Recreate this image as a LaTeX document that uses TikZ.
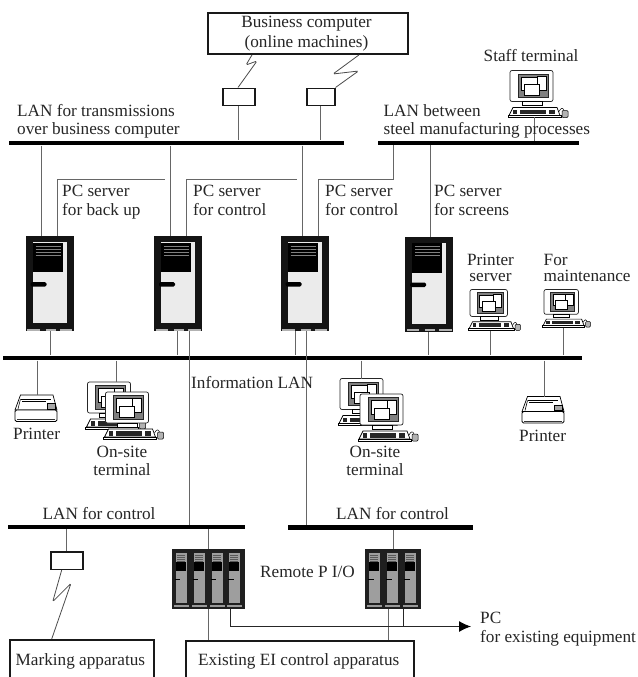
\documentclass[tikz,border=0pt]{standalone}
\usepackage{fontspec}
\setmainfont{Liberation Serif}
\usetikzlibrary{arrows.meta}
\tikzset{
  wire/.style={draw=black!60,line width=0.9pt},
  radio/.style={draw=black!70,line width=0.8pt,rounded corners=1.5pt},
  busline/.style={fill=black,draw=none,inner sep=0pt,minimum height=4.8pt,anchor=west},
  hold/.style={inner sep=0pt,draw=none,anchor=north west},
  boxed/.style={draw=black!90,line width=1.5pt,fill=white,inner sep=0pt,anchor=north west},
  heavybox/.style={draw=black!90,line width=1.9pt,fill=white,inner sep=0pt,anchor=north west},
  lbl/.style={inner sep=0pt,anchor=base west,font=\fontsize{17.2}{18}\selectfont,text=black!85},
  lblc/.style={lbl,anchor=base},
}
% tower server
\newcommand{\towerdev}[3]{%
  \node[hold,minimum width=48pt,minimum height=95pt] (#1) at (#2,#3) {};
  \begin{scope}[shift={(#2,#3)}]
    \fill[black!92] (0,0) rectangle (48,95);
    \fill[black!8] (7,6) rectangle (41,87);
    \fill[black] (7,6.5) rectangle (37,36);
    \foreach \yy in {10,13,16,19} \draw[black!50,line width=0.8pt] (10,\yy) -- (35,\yy);
    \fill[black,rounded corners=1.5pt] (5,46) rectangle (21,50.5);
    \fill[black!30] (1.5,92.5) rectangle (46.5,94.5);
    \fill[black!90] (14,92.5) rectangle (20,94.5);
    \fill[black!90] (30,92.5) rectangle (34,94.5);
  \end{scope}}
% terminal
\newcommand{\termdev}[4]{%
  \node[hold,minimum width=#4*58pt,minimum height=#4*47pt] (#1) at (#2,#3) {};
  \begin{scope}[shift={(#2,#3)},scale=#4]
    \draw[black!85,line width=0.7pt,fill=white,rounded corners=2pt] (0,0) rectangle (43,31);
    \draw[black!85,line width=0.8pt,fill=black!50] (8,3.5) rectangle (38,27);
    \draw[black,line width=0.6pt,fill=white] (11,6.5) rectangle (27,20);
    \draw[black,line width=0.6pt,fill=white] (27,6) rectangle (36,20);
    \draw[black,line width=0.6pt,fill=white] (14,14) rectangle (29,25);
    \draw[black,line width=0.6pt,fill=white] (12,31) rectangle (32,35);
    \draw[black,line width=0.7pt,fill=white] (-1,45) -- (3,37) -- (47,37) -- (50,45) -- cycle;
    \draw[black,line width=0.7pt,fill=white] (-2,45) rectangle (51,47);
    \fill[black!85] (3,39) rectangle (7,43.5);
    \fill[black!85] (10,39) rectangle (36,43.5);
    \fill[black!85] (39,39) rectangle (45,43.5);
    \draw[black,line width=0.5pt] (49,41) .. controls (51,37) and (53,37) .. (54,40);
    \draw[black,line width=0.5pt,fill=black!30,rounded corners=1pt] (52,47) rectangle (58,40);
  \end{scope}}
% printer
\newcommand{\printdev}[3]{%
  \node[hold,minimum width=42pt,minimum height=27pt] (#1) at (#2,#3) {};
  \begin{scope}[shift={(#2,#3)}]
    \draw[black,line width=0.7pt,fill=white] (5.5,0) -- (38,0) -- (42,15) -- (0,15) -- cycle;
    \draw[black,line width=0.6pt] (6,4) -- (36,4);
    \draw[black,line width=0.6pt] (5.5,4) -- (3,14);
    \draw[black,line width=0.5pt,fill=black!35] (32,8.5) rectangle (40,14);
    \draw[black,line width=0.5pt] (7,6) -- (31,6);
    \draw[black,line width=0.8pt,fill=white,rounded corners=1.5pt] (0,15) rectangle (42,26.5);
    \draw[black!80,line width=1pt] (2,24.5) -- (40,24.5);
  \end{scope}}
% rack
\newcommand{\rackdev}[5]{% name x y slots pitch
  \node[hold,minimum width=#4*#5pt+1.5pt,minimum height=59.5pt] (#1) at (#2,#3) {};
  \begin{scope}[shift={(#2,#3)}]
    \fill[black!88] (0,0) rectangle ({#4*#5+1.5},59.5);
    \foreach \ii in {1,...,#4} {
      \begin{scope}[shift={({(\ii-1)*#5+4},0)}]
        \fill[black!38] (0,4) rectangle (11,54);
        \fill[black] (0,13) rectangle (10,22);
        \foreach \yy in {6,8,10,12} \draw[black!65,line width=0.5pt] (1,\yy) -- (9,\yy);
        \draw[black,line width=0.7pt] (-1,30) -- (4.5,30);
        \fill[black!40] (-2,56) rectangle (13,57.5);
      \end{scope}}
  \end{scope}}
\begin{document}
\begin{tikzpicture}[x=1pt,y=-1pt]
\path[use as bounding box,fill=white] (0,0) rectangle (637,677);
\clip (0,0) rectangle (637,677);

% buses
\node[busline,minimum width=335pt] (lana) at (9,143) {};
\node[busline,minimum width=201pt,minimum height=4.2pt] (lanb) at (378,143) {};
\node[busline,minimum width=579pt] (info) at (3,358) {};
\node[busline,minimum width=237pt,minimum height=4.2pt] (ctla) at (8,527) {};
\node[busline,minimum width=185pt,minimum height=4.2pt] (ctlb) at (288,527.5) {};

% boxes
\node[heavybox,minimum width=200pt,minimum height=41pt] (biz) at (207,12) {};
\node[boxed,minimum width=32pt,minimum height=17pt] (gwa) at (222,87.5) {};
\node[boxed,minimum width=28pt,minimum height=17pt] (gwb) at (306,87.5) {};
\node[boxed,minimum width=32pt,minimum height=17.5pt] (gwc) at (50,551) {};
\node[heavybox,minimum width=144pt,minimum height=60pt] (mark) at (9,639) {};
\node[heavybox,minimum width=228pt,minimum height=60pt] (eibox) at (185,640) {};

% devices
\towerdev{ta}{25.5}{236}
\towerdev{tb}{154}{236}
\towerdev{tc}{280.5}{236}
\towerdev{td}{405}{236.5}
\termdev{staff}{510}{70.5}{1}
\termdev{psrv}{470}{289.5}{0.87}
\termdev{maint}{544}{289.5}{0.80}
\termdev{osa}{87.5}{382}{1}
\termdev{osb}{105.5}{392}{1}
\termdev{osc}{340}{378.5}{1}
\termdev{osd}{360}{394}{1}
\printdev{pra}{15}{395}
\printdev{prb}{522}{396.5}
\rackdev{rka}{171.7}{549}{4}{17.9}
\rackdev{rkb}{365}{549}{3}{18.2}

% connectors: upper LAN
\draw[wire] (238,0 |- gwa.south) -- (238,0 |- lana.north);
\draw[wire] (320,0 |- gwb.south) -- (320,0 |- lana.north);
\draw[wire] (41.5,0 |- lana.south) -- (41.5,0 |- ta.north);
\draw[wire] (170,0 |- lana.south) -- (170,0 |- tb.north);
\draw[wire] (302.5,0 |- lana.south) -- (302.5,0 |- tc.north);
\coordinate (ea) at (165,179.5);
\coordinate (eb) at (296.5,179.5);
\draw[wire] (57.5,0 |- ta.north) |- (ea);
\draw[wire] (186,0 |- tb.north) |- (eb);
\draw[wire] (318,0 |- tc.north) -- (318,179.5) -| (393,0 |- lanb.south);
\draw[wire] (430,0 |- td.north) -- (430,0 |- lanb.south);
\draw[wire] (534,117) -- (534,0 |- lanb.north);
% radio links
\draw[radio] (238,0 |- gwa.north) -- (257,61) -- (246,65) -- (252,0 |- biz.south);
\draw[radio] (gwb.north east) -- (358.5,71) -- (333,74) -- (359,0 |- biz.south);
\draw[radio] (61.7,0 |- gwc.south) -- (52.7,601.7) -- (71,583.3) -- (51.7,0 |- mark.north);
% towers to information LAN
\draw[wire] (50,0 |- ta.south) -- (50,0 |- info.north);
\draw[wire] (177.5,0 |- tb.south) -- (177.5,0 |- info.north);
\draw[wire] (189,0 |- tb.south) -- (189,0 |- ctla.north);
\draw[wire] (295,0 |- tc.south) -- (295,0 |- info.north);
\draw[wire] (306.5,0 |- tc.south) -- (306.5,0 |- ctlb.north);
\draw[wire] (428,0 |- td.south) -- (428,0 |- info.north);
\draw[wire] (490,335 |- psrv.south) -- (490,0 |- info.north);
\draw[wire] (563,335 |- maint.south) -- (563,0 |- info.north);
\draw[wire] (37,0 |- info.south) -- (37,0 |- pra.north);
\draw[wire] (116,0 |- info.south) -- (116,0 |- osa.north);
\draw[wire] (361,0 |- info.south) -- (361,0 |- osc.north);
\draw[wire] (544,0 |- info.south) -- (544,0 |- prb.north);
% control LANs
\draw[wire] (66,0 |- ctla.south) -- (66,0 |- gwc.north);
\draw[wire] (208,0 |- ctla.south) -- (208,0 |- rka.north);
\draw[wire] (208,0 |- rka.south) -- (208,0 |- eibox.north);
\draw[wire] (393,0 |- ctlb.south) -- (393,0 |- rkb.north);
\draw[wire] (388,0 |- rkb.south) -- (388,0 |- eibox.north);
\coordinate (pctip) at (471,626.5);
\draw[black!85,line width=1pt,-{Latex[length=12pt,width=11pt,black]}] (230,0 |- rka.south) |- (pctip);
\draw[black!85,line width=1pt] (403,0 |- rkb.south) -- (403,626.5);

% labels
\node[lblc] (t1) at (306.5,28) {Business computer};
\node[lblc] (t2) at (306.5,47.5) {(online machines)};
\node[lbl] (t3) at (17,116) {LAN for transmissions};
\node[lbl] (t4) at (17,134) {over business computer};
\node[lbl] (t5) at (62,196.5) {PC server};
\node[lbl] (t6) at (62,215) {for back up};
\node[lbl] (t7) at (193,196.5) {PC server};
\node[lbl] (t8) at (193,215) {for control};
\node[lbl] (t9) at (325,196.5) {PC server};
\node[lbl] (t10) at (325,215) {for control};
\node[lbl] (t11) at (434,196.5) {PC server};
\node[lbl] (t12) at (434,215) {for screens};
\node[lbl] (t13) at (483.5,62) {Staff terminal};
\node[lbl] (t14) at (383.5,116) {LAN between};
\node[lbl] (t15) at (383.5,134) {steel manufacturing processes};
\node[lblc] (t16) at (490.5,265) {Printer};
\node[lblc] (t17) at (490.5,281.5) {server};
\node[lbl] (t18) at (543.5,265) {For};
\node[lbl] (t19) at (543.5,281.5) {maintenance};
\node[lbl] (t20) at (13,439) {Printer};
\node[lblc] (t21) at (122,457) {On-site};
\node[lblc] (t22) at (122,475) {terminal};
\node[lbl] (t23) at (191,388) {Information LAN};
\node[lblc] (t24) at (375,457) {On-site};
\node[lblc] (t25) at (375,475) {terminal};
\node[lbl] (t26) at (519,441) {Printer};
\node[lbl] (t27) at (42.5,519) {LAN for control};
\node[lbl] (t28) at (336,519) {LAN for control};
\node[lbl] (t29) at (260,577) {Remote P I/O};
\node[lbl] (t30) at (480,623) {PC};
\node[lbl] (t31) at (480,642) {for existing equipment};
\node[lbl] (t32) at (15.5,665) {Marking apparatus};
\node[lbl] (t33) at (198,665) {Existing EI control apparatus};
\end{tikzpicture}
\end{document}
